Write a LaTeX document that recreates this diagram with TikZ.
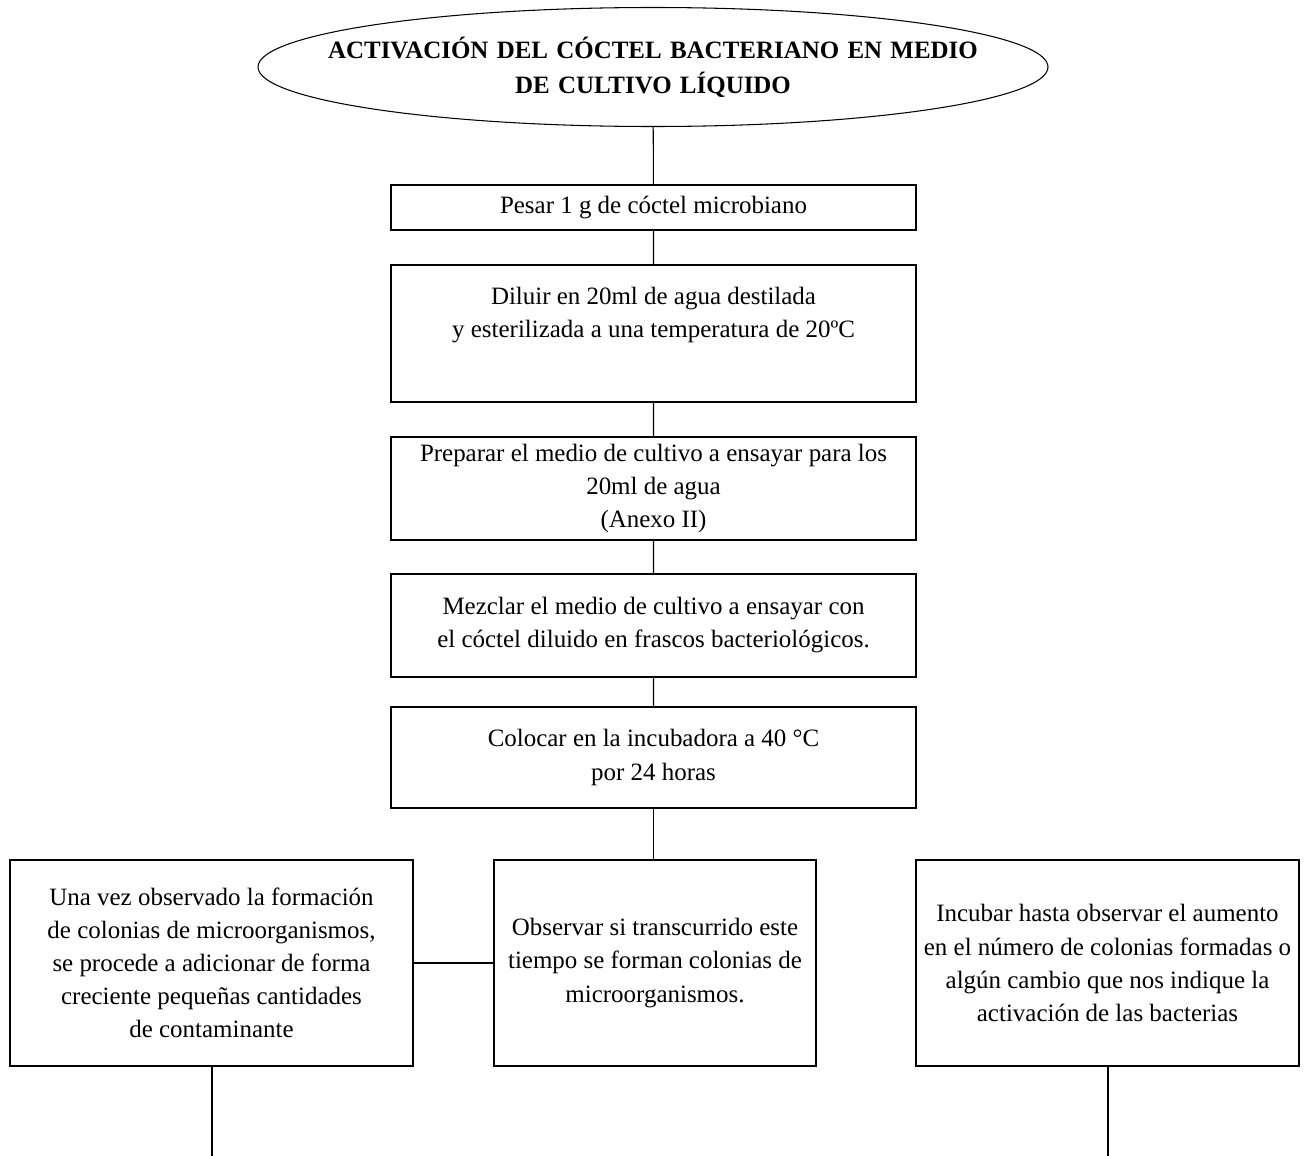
\documentclass[tikz,border=0pt]{standalone}
\usepackage{fontspec}
\setmainfont{Liberation Serif}
\usetikzlibrary{shapes.geometric}
\begin{document}
\begin{tikzpicture}[line width=.6pt,
    every node/.style={font=\fontsize{14.2pt}{18.8pt}\selectfont},
    stepbox/.style={draw,rectangle,align=center,inner sep=0pt,minimum width=10.5cm}]
      \useasboundingbox (0,0) rectangle (26.12,-23.12);
      % title
      \node[draw,ellipse,inner xsep=-1.2cm,inner ysep=0pt,text width=13.2cm,minimum width=15.8cm,minimum height=2.38cm,align=center,
            font=\fontsize{14.2pt}{19.9pt}\selectfont\bfseries](tit) at (13.06,-1.34)
            {ACTIVACIÓN DEL CÓCTEL BACTERIANO EN MEDIO\\ DE CULTIVO LÍQUIDO};
      % main column
      \node[stepbox,minimum height=.9cm](pesar) at (13.07,-4.15) {Pesar 1 g de cóctel microbiano};
      \node[stepbox,minimum height=2.74cm](diluir) at (13.07,-6.67)
            {Diluir en 20ml de agua destilada\\ y esterilizada a una temperatura de 20ºC\\ \strut};
      \node[stepbox,minimum height=2.06cm](prep) at (13.07,-9.77)
            {Preparar el medio de cultivo a ensayar para los\\ 20ml de agua\\ (Anexo II)};
      \node[stepbox,minimum height=2.06cm](mezcla) at (13.07,-12.51)
            {Mezclar el medio de cultivo a ensayar con\\ el cóctel diluido en frascos bacteriológicos.};
      \node[stepbox,minimum height=2.02cm](incub) at (13.07,-15.15)
            {Colocar en la incubadora a 40 °C\\ por 24 horas};
      % bottom row
      \node[stepbox,minimum width=6.44cm,minimum height=4.12cm](obs) at (13.1,-19.26)
            {Observar si transcurrido este\\ tiempo se forman colonias de\\ microorganismos.};
      \node[stepbox,minimum width=8.06cm,minimum height=4.12cm](adic) at (4.23,-19.26)
            {Una vez observado la formación\\ de colonias de microorganismos,\\ se procede a adicionar de forma\\ creciente pequeñas cantidades\\ de contaminante};
      \node[stepbox,minimum width=7.66cm,minimum height=4.12cm](aum) at (22.15,-19.26)
            {Incubar hasta observar el aumento\\ en el número de colonias formadas o\\ algún cambio que nos indique la\\ activación de las bacterias};
      \coordinate (endL) at (4.24,-23.12);
      \coordinate (endR) at (22.16,-23.12);
      % connectors
      \draw (tit)--(pesar) (pesar)--(diluir) (diluir)--(prep) (prep)--(mezcla) (mezcla)--(incub);
      \draw (incub.south)--(incub.south |- obs.north);
      \draw (adic.east)--(obs.west);
      \draw (endL |- adic.south)--(endL) (endR |- aum.south)--(endR);
    \end{tikzpicture}
\end{document}
